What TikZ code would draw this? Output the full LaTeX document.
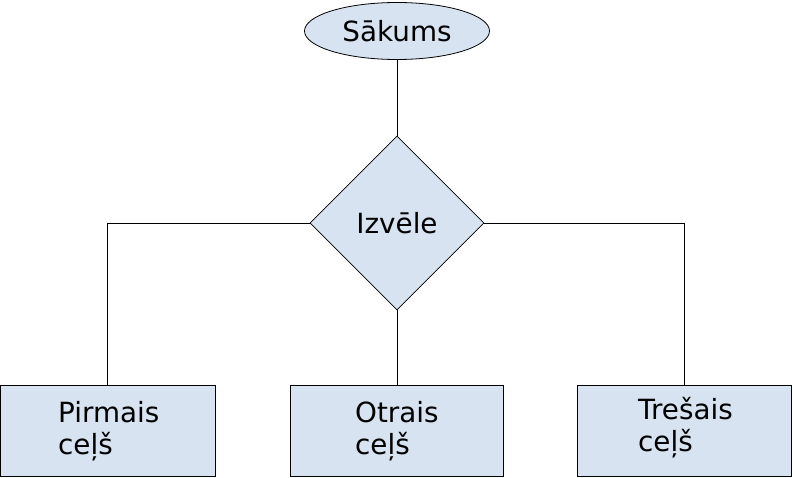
\documentclass[tikz,border=0pt]{standalone}
\usepackage{fontspec}
\setmainfont{DejaVu Sans}
\usetikzlibrary{shapes.geometric}
\definecolor{boxfill}{HTML}{D7E3F1}
\tikzset{
  shp/.style={draw=black, fill=boxfill, line width=0.8pt, inner sep=0pt},
  startnode/.style={shp, ellipse, minimum width=185pt, minimum height=57pt},
  choice/.style={shp, diamond, minimum width=174pt, minimum height=174pt},
  pathbox/.style={shp, rectangle, minimum height=91pt},
  txt/.style={font=\fontsize{27.8}{32}\selectfont, align=left, inner sep=0pt},
  conn/.style={draw=black, line width=0.8pt}
}
\begin{document}
\begin{tikzpicture}[x=1pt,y=-1pt]
\useasboundingbox (0,0) rectangle (793,478);
\node[startnode] (start) at (397,31) {\fontsize{27.8}{32}\selectfont Sākums};
\node[choice] (izv) at (397,223) {\fontsize{27.8}{32}\selectfont Izvēle};
\node[pathbox, minimum width=215pt] (b1) at (107.5,430.5) {};
\node[pathbox, minimum width=213pt] (b2) at (397,430.5) {};
\node[pathbox, minimum width=214pt] (b3) at (684,430.5) {};
\node[txt, anchor=base west] (t1) at (58,454) {Pirmais\\ceļš};
\node[txt, anchor=base west] (t2) at (355,454) {Otrais\\ceļš};
\node[txt, anchor=base west] (t3) at (638,451) {Trešais\\ceļš};
\draw[conn] (start) -- (izv);
\draw[conn] (izv.west) -| (b1.north);
\draw[conn] (izv.south) -- (b2.north);
\draw[conn] (izv.east) -| (b3.north);
\end{tikzpicture}
\end{document}
